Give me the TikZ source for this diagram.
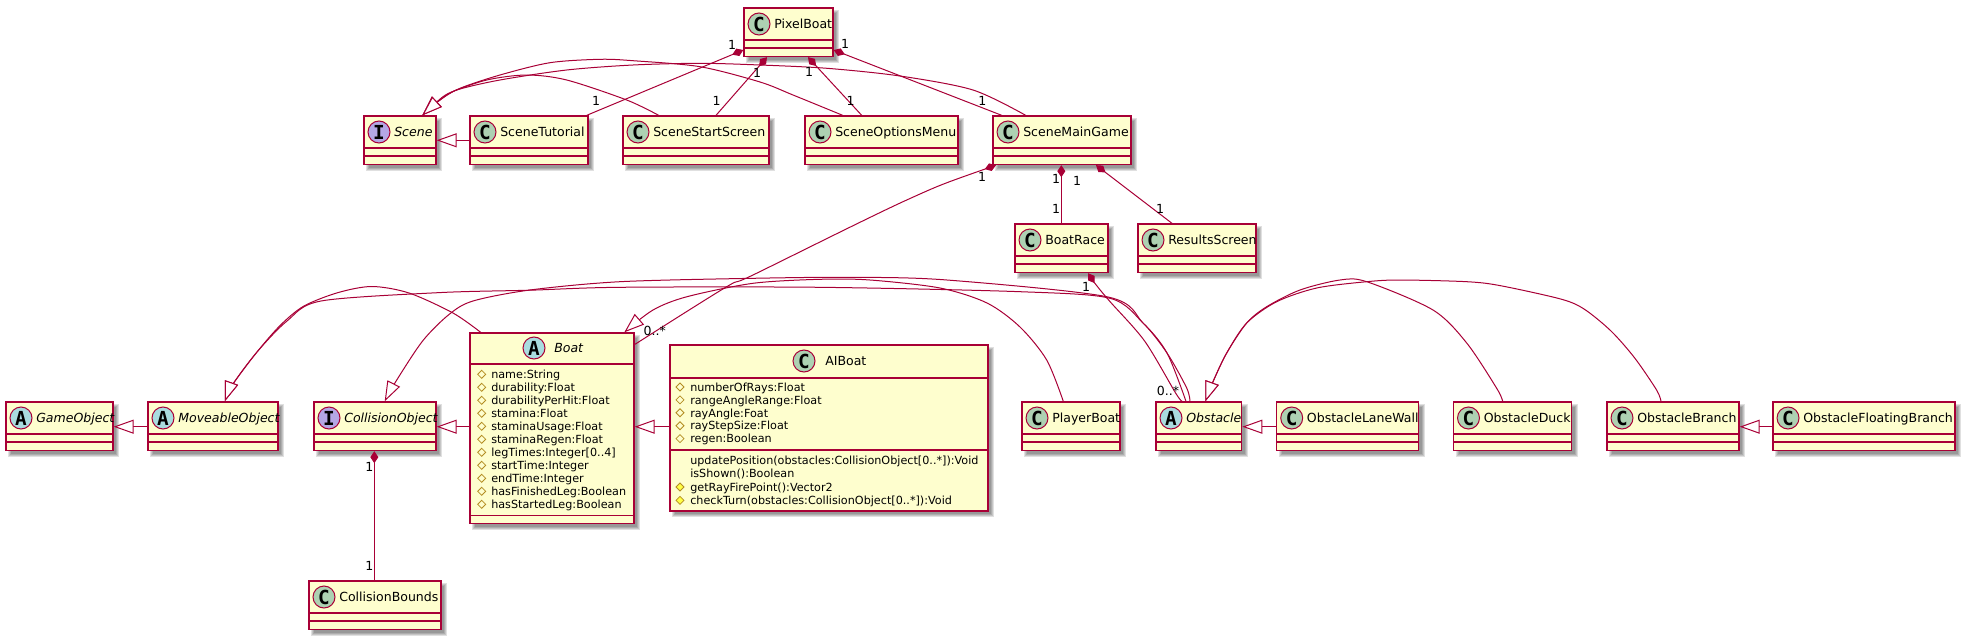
\documentclass[tikz,border=0pt]{standalone}
\usepackage{fontspec}
\setmainfont{DejaVu Sans}
\newfontfamily\letterfont{DejaVu Sans Mono}
\usetikzlibrary{arrows.meta}
\definecolor{umlred}{HTML}{A80036}
\definecolor{umlfill}{HTML}{FEFECE}
\definecolor{cgreen}{HTML}{ADD1B2}
\definecolor{acyan}{HTML}{A9DCDF}
\definecolor{ipurple}{HTML}{B4A7E5}
\definecolor{attrline}{HTML}{B38D22}
\definecolor{attrfill}{HTML}{FFFF44}
\tikzset{
  boxframe/.style={draw=umlred,fill=umlfill,line width=1pt,inner sep=0pt,rectangle},
  sepline/.style={draw=umlred,line width=1pt},
  shadowlayer/.style={fill=black,opacity=.12},
  spot/.style={circle,draw=umlred,line width=.75pt,minimum size=16.5pt,inner sep=0pt,text=black,font=\letterfont\bfseries\fontsize{14.5}{14.5}\selectfont},
  cname/.style={anchor=base west,inner sep=0pt,font=\fontsize{9.4}{11}\selectfont},
  iname/.style={cname,font=\fontsize{9.4}{11}\itshape\selectfont},
  member/.style={anchor=base west,inner sep=0pt,font=\fontsize{8.4}{10}\selectfont},
  mult/.style={inner sep=0pt,font=\fontsize{9.4}{11}\selectfont},
  gen/.style={draw=umlred,line width=.75pt,-{Triangle[length=15pt,width=10.5pt,fill=white]}},
  comp/.style={draw=umlred,line width=.75pt,{Diamond[length=9pt,width=6pt,fill=umlred]}-},
  arcline/.style={smooth,tension=.5},
}
% name, x1, x2, y1, y2, y3, y4
\newcommand\umlframe[7]{%
  \foreach \k in {2,1,0,-1}{\fill[shadowlayer] ({#2+4-\k},{#4+4-\k}) rectangle ({#3+4+\k},{#7+4+\k});}
  \node[boxframe,minimum width={(#3-#2)*0.75pt},minimum height={(#7-#4)*0.75pt}] (#1) at ({(#2+#3)/2},{(#4+#7)/2}) {};
  \draw[sepline] (#1.west |- 0,{#5}) -- (#1.east |- 0,{#5});
  \draw[sepline] (#1.west |- 0,{#6}) -- (#1.east |- 0,{#6});
}
% name, x1, x2, y1, colour, letter, text, style
\newcommand\umlsmall[8]{%
  \umlframe{#1}{#2}{#3}{#4}{#4+32}{#4+40}{#4+48.5}
  \node[spot,fill=#5] (#1-spot) at ({#2+15},{#4+16}) {#6};
  \node[#8] (#1-name) at ({#2+30},{#4+20.5}) {#7};
}
\newcommand\mdiamond[3]{\draw[attrline,line width=.6pt,fill=#3] ({#1-4},{#2}) -- ({#1},{#2-4}) -- ({#1+4},{#2}) -- ({#1},{#2+4}) -- cycle;}
\newcommand\lab[4]{\node[mult] (#1) at (#2,#3) {#4};}
\begin{document}
\begin{tikzpicture}[x=0.75pt,y=-0.75pt]
\useasboundingbox (0,0) rectangle (1964,639);
% top row
\umlsmall{pb}{744}{833}{8}{cgreen}{C}{PixelBoat}{cname}
\umlsmall{scene}{364}{436}{116}{ipurple}{I}{Scene}{iname}
\umlsmall{tut}{470}{588}{116}{cgreen}{C}{SceneTutorial}{cname}
\umlsmall{start}{623}{769}{116}{cgreen}{C}{SceneStartScreen}{cname}
\umlsmall{opt}{805}{958}{116}{cgreen}{C}{SceneOptionsMenu}{cname}
\umlsmall{main}{993}{1131}{116}{cgreen}{C}{SceneMainGame}{cname}
\umlsmall{race}{1015}{1108}{224}{cgreen}{C}{BoatRace}{cname}
\umlsmall{res}{1138}{1256}{224}{cgreen}{C}{ResultsScreen}{cname}
% lower row
\umlsmall{go}{6}{113}{402}{acyan}{A}{GameObject}{iname}
\umlsmall{mo}{148}{278}{402}{acyan}{A}{MoveableObject}{iname}
\umlsmall{co}{314}{436}{402}{ipurple}{I}{CollisionObject}{iname}
\umlsmall{pl}{1022}{1120}{402}{cgreen}{C}{PlayerBoat}{cname}
\umlsmall{ob}{1156}{1241.7}{402}{acyan}{A}{Obstacle}{iname}
\umlsmall{lw}{1276.7}{1418.5}{402}{cgreen}{C}{ObstacleLaneWall}{cname}
\umlsmall{du}{1453.5}{1571.5}{402}{cgreen}{C}{ObstacleDuck}{cname}
\umlsmall{br}{1607}{1739}{402}{cgreen}{C}{ObstacleBranch}{cname}
\umlsmall{fb}{1773}{1955}{402}{cgreen}{C}{ObstacleFloatingBranch}{cname}
\umlsmall{cb}{309}{441}{581}{cgreen}{C}{CollisionBounds}{cname}
% Boat
\umlframe{boat}{470}{634}{333}{364}{515.4}{523.5}
\node[spot,fill=acyan] (boat-spot) at (534,348) {A};
\node[iname] (boat-name) at (554,352.7) {Boat};
\foreach \t [count=\i from 0] in {name:String,durability:Float,durabilityPerHit:Float,stamina:Float,staminaUsage:Float,staminaRegen:Float,legTimes:Integer[0..4],startTime:Integer,endTime:Integer,hasFinishedLeg:Boolean,hasStartedLeg:Boolean}{
  \mdiamond{481.7}{374.3+13*\i}{umlfill}
  \node[member] (boat-m\i) at (491,{378.5+13*\i}) {\t};
}
% AIBoat
\umlframe{ai}{670}{988}{345}{378}{450}{511}
\node[spot,fill=cgreen] (ai-spot) at (804,361) {C};
\node[cname] (ai-name) at (825,365.5) {AIBoat};
\foreach \t [count=\i from 0] in {numberOfRays:Float,rangeAngleRange:Float,rayAngle:Foat,rayStepSize:Float,regen:Boolean}{
  \mdiamond{680}{387+12.9*\i}{umlfill}
  \node[member] (ai-m\i) at (690,{391.2+12.9*\i}) {\t};
}
\node[member] (ai-f0) at (690,464.2) {updatePosition(obstacles:CollisionObject[0..*]):Void};
\node[member] (ai-f1) at (690,477.4) {isShown():Boolean};
\mdiamond{680}{487}{attrfill}
\node[member] (ai-f2) at (690,491) {getRayFirePoint():Vector2};
\mdiamond{680}{500.4}{attrfill}
\node[member] (ai-f3) at (690,504.4) {checkTurn(obstacles:CollisionObject[0..*]):Void};
% generalisations, straight
\draw[gen] (tut.west |- 0,140.3) -- (scene.east |- 0,140.3);
\draw[gen] (mo.west |- 0,426.7) -- (go.east |- 0,426.7);
\draw[gen] (boat.west |- 0,426.7) -- (co.east |- 0,426.7);
\draw[gen] (ai.west |- 0,426.7) -- (boat.east |- 0,426.7);
\draw[gen] (lw.west |- 0,426.7) -- (ob.east |- 0,426.7);
\draw[gen] (fb.west |- 0,426.7) -- (br.east |- 0,426.7);
% generalisations, curved
\draw[gen] plot[arcline] coordinates {(658.7,0 |- start.north) (626.7,100) (566.7,80) (526.7,75) (486.7,80) (450,92.7) (437,101.7) (422.3,0 |- scene.north)};
\draw[gen] plot[arcline] coordinates {(842.7,0 |- opt.north) (793,95) (760,82) (700,66.7) (633,60.7) (600,59.3) (550,62.7) (500,75) (460,88.3) (440,100) (422.3,0 |- scene.north)};
\draw[gen] plot[arcline] coordinates {(1025.7,0 |- main.north) (973,90) (900,76) (827,68.3) (760,65) (700,63.3) (633,65) (566.7,70) (500,80) (456.7,90) (440,100) (422.3,0 |- scene.north)};
\draw[gen] plot[arcline] coordinates {(480.7,0 |- boat.north) (453,313) (409,293) (372,286.5) (338,292.6) (304,306) (280.6,325) (257,352) (233,384) (224.8,0 |- mo.north)};
\draw[gen] plot[arcline] coordinates {(1190,0 |- ob.north) (1186.7,388) (1167,353) (1143,323) (1110,298.3) (1020,291.7) (820,287.3) (620,287.3) (530,290.2) (439.5,292.6) (321,301) (287,321) (257,352) (233,384) (224.8,0 |- mo.north)};
\draw[gen] plot[arcline] coordinates {(1186,0 |- ob.north) (1167,353) (1143,323) (1108,297) (947,280) (853,277.3) (753,278.3) (620,281.7) (530,290) (473,301) (449,314.5) (422.6,341) (395.5,382) (384.7,0 |- co.north)};
\draw[gen] plot[arcline] coordinates {(1063.3,0 |- pl.north) (1046.7,360) (1020,327) (987,303) (940,288) (870,280) (820,279.3) (753,283.3) (687,296.7) (653,310) (624.3,0 |- boat.north)};
\draw[gen] plot[arcline] coordinates {(1502.7,0 |- du.north) (1496.7,388.3) (1466.7,343) (1433,310) (1366.7,281.7) (1340,280) (1300,290) (1266.7,306.7) (1246.7,323) (1226.7,353) (1213,381.7) (1205.4,0 |- ob.north)};
\draw[gen] plot[arcline] coordinates {(1661,0 |- br.north) (1656.6,390) (1634.7,358) (1611,331) (1584,309) (1560.6,299) (1500,285.6) (1466.7,281.7) (1400,280) (1366.7,281.7) (1316.7,288) (1276.7,301.7) (1246.7,323) (1226.7,353) (1213,381.7) (1205.4,0 |- ob.north)};
% compositions
\draw[comp] (pb.west |- 0,50) -- (586.7,0 |- tut.north);
\draw[comp] (767,0 |- pb.south) -- (716,0 |- start.north);
\draw[comp] (808,0 |- pb.south) -- (861.7,0 |- opt.north);
\draw[comp] (pb.east |- 0,50) -- (1001.7,0 |- main.north);
\draw[comp] plot[arcline] coordinates {(996,0 |- main.south) (906.7,200) (753,275) (726.7,286.7) (635,344.3)};
\draw[comp] (1061.3,0 |- main.south) -- (1061.3,0 |- race.north);
\draw[comp] (1096,0 |- main.south) -- (1172,0 |- res.north);
\draw[comp] plot[arcline] coordinates {(1088,0 |- race.south) (1097,286) (1110,301.6) (1144.6,341) (1175.6,393) (1182,0 |- ob.north)};
\draw[comp] (374.3,0 |- co.south) -- (374.3,0 |- cb.north);
% multiplicities
\lab{m1}{732}{45}{1}
\lab{m2}{596}{100.7}{1}
\lab{m3}{757}{73}{1}
\lab{m4}{716.7}{100.7}{1}
\lab{m5}{809}{71.7}{1}
\lab{m6}{850.7}{101}{1}
\lab{m7}{845}{44.3}{1}
\lab{m8}{982.3}{100.7}{1}
\lab{m9}{982}{176.7}{1}
\lab{m10}{654.7}{330.7}{0..*}
\lab{m11}{1056}{179}{1}
\lab{m12}{1056}{209}{1}
\lab{m13}{1077}{181}{1}
\lab{m14}{1160}{209}{1}
\lab{m15}{1086}{287.3}{1}
\lab{m16}{1168}{391}{0..*}
\lab{m17}{369.3}{466.7}{1}
\lab{m18}{369.3}{565.7}{1}
\end{tikzpicture}
\end{document}
